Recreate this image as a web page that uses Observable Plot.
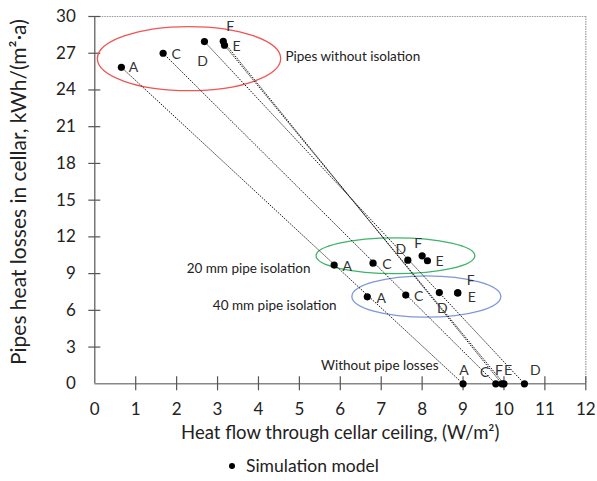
<!DOCTYPE html>
<html>
<head>
<meta charset="utf-8">
<script src="https://cdn.jsdelivr.net/npm/d3@7"></script>
<script src="https://cdn.jsdelivr.net/npm/@observablehq/plot@0.6"></script>
<style>
  body { margin: 0; background: #fff; font-family: Lato, sans-serif; }
  #wrap { position: relative; width: 597px; height: 481px; }
  #legend { position: absolute; top: 455px; left: 229px; font-size: 17.5px; line-height: 22px; color: #222; display: flex; align-items: center; }
  #legend .dot { display: inline-block; width: 6px; height: 6px; border-radius: 50%; background: #000; margin-right: 11px; }
</style>
</head>
<body>
<div id="wrap"><div id="chart"></div><div id="legend"><span class="dot"></span><span>Simulation model</span></div></div>
<script>
// ---- data ----
const scenarios = ["A", "C", "D", "E", "F"];
// Pipes without isolation
const noIsoX = [0.65, 1.67, 2.68, 3.17, 3.14];
const noIsoY = [25.85, 27.0, 27.95, 27.65, 27.97];
// 20 mm pipe isolation
const iso20X = [5.85, 6.80, 7.65, 8.13, 8.00];
const iso20Y = [9.70, 9.85, 10.10, 10.05, 10.45];
// 40 mm pipe isolation
const iso40X = [6.66, 7.60, 8.42, 8.87, 8.87];
const iso40Y = [7.10, 7.25, 7.45, 7.42, 7.42];
// Without pipe losses
const noLossX = [9.00, 9.80, 10.50, 10.00, 9.95];
const noLossY = [0, 0, 0, 0, 0];

const xTicks = [0, 1, 2, 3, 4, 5, 6, 7, 8, 9, 10, 11, 12];
const yTicks = [0, 3, 6, 9, 12, 15, 18, 21, 24, 27, 30];
const groupNames = ["Pipes without isolation", "20 mm pipe isolation", "40 mm pipe isolation", "Without pipe losses"];
const xTitle = "Heat flow through cellar ceiling, (W/m²)";
const yTitle = "Pipes heat losses in cellar, kWh/(m²·a)";

// ---- styling / label placement (pixels) ----
const labelOffsets = [
  // A, C, D, E, F
  [[12, 0], [13, 1], [-2, 20], [12, 1], [7, -15]],
  [[13, 1], [14, 1], [-7, -11], [12, 1], [-4, -12]],
  [[14, 2], [13, 1], [3, 16], [14, 5], [13, -12]],
  [[1, -13], [-11, -11], [11, -13], [4, -13], [-3, -13]]
];
const ellipses = [
  {cx: 2.315, cy: 26.52, rx: 2.24, ry: 2.62, color: "#f05555"},
  {cx: 7.36, cy: 10.41, rx: 1.94, ry: 1.46, color: "#3cb46a"},
  {cx: 8.115, cy: 7.09, rx: 1.82, ry: 1.69, color: "#7d9ad6"}
];

const groups = [[noIsoX, noIsoY], [iso20X, iso20Y], [iso40X, iso40Y], [noLossX, noLossY]];
const points = [];
groups.forEach(([xs, ys], g) => scenarios.forEach((s, i) => points.push({g, s, x: xs[i], y: ys[i], dx: labelOffsets[g][i][0], dy: labelOffsets[g][i][1]})));
const idx = scenarios.map((s, i) => i);

const ellipseMark = (index, scales) => {
  const x = scales.x, y = scales.y;
  const g = d3.create("svg:g");
  for (const e of ellipses) {
    const cx = x(e.cx), cy = y(e.cy);
    g.append("ellipse")
      .attr("cx", cx).attr("cy", cy)
      .attr("rx", Math.abs(x(e.cx + e.rx) - cx))
      .attr("ry", Math.abs(y(e.cy + e.ry) - cy))
      .attr("fill", "none").attr("stroke", e.color).attr("stroke-width", 1.3);
  }
  return g.node();
};

const labelMarks = points.map(p => Plot.text([p], {x: "x", y: "y", text: "s", dx: p.dx, dy: p.dy, fontSize: 14, fill: "#333"}));

const chart = Plot.plot({
  width: 597,
  height: 448,
  marginLeft: 94.3,
  marginRight: 11.7,
  marginTop: 16,
  marginBottom: 64.7,
  style: {fontFamily: "Lato, sans-serif", fontSize: "17px", color: "#222", background: "#fff", overflow: "visible"},
  x: {domain: [0, 12]},
  y: {domain: [0, 30]},
  marks: [
    Plot.ruleY([30], {stroke: "#999", strokeDasharray: "1.5,1", strokeWidth: 1.2}),
    Plot.ruleX([12], {stroke: "#999", strokeDasharray: "1.5,1", strokeWidth: 1.2}),
    Plot.ruleX([0], {stroke: "#555", strokeWidth: 1.2}),
    Plot.ruleY([0], {stroke: "#888", strokeWidth: 1.5}),
    Plot.ruleX(xTicks.slice(1), {x: d => d, y1: 0, y2: 0, insetTop: -7, insetBottom: -7, stroke: "#555", strokeWidth: 1.2}),
    Plot.ruleY(yTicks.slice(1), {y: d => d, x1: 0, x2: 0, insetLeft: -6, insetRight: -6, stroke: "#555", strokeWidth: 1.2}),
    Plot.axisX(xTicks, {tickSize: 0, tickPadding: 19, label: null, fill: "#222"}),
    Plot.axisY(yTicks, {tickSize: 0, tickPadding: 19, label: null, fill: "#222"}),
    Plot.text([xTitle], {frameAnchor: "bottom", dy: 55, fontSize: 18.5, fill: "#222"}),
    Plot.text([yTitle], {frameAnchor: "left", textAnchor: "middle", rotate: -90, dx: -76, dy: -8, fontSize: 21, fill: "#222"}),
    ellipseMark,
    Plot.link(idx, {x1: i => noIsoX[i], y1: i => noIsoY[i], x2: i => noLossX[i], y2: i => noLossY[i], stroke: "#000", strokeWidth: 0.9, strokeDasharray: "1.5,1.2"}),
    Plot.dot(points, {x: "x", y: "y", r: 3.6, fill: "#000"}),
    ...labelMarks,
    Plot.text([groupNames[0]], {x: 4.66, y: 26.72, textAnchor: "start", fontSize: 13.5, fill: "#222"}),
    Plot.text([groupNames[1]], {x: 5.27, y: 9.44, textAnchor: "end", fontSize: 13.5, fill: "#222"}),
    Plot.text([groupNames[2]], {x: 5.91, y: 6.42, textAnchor: "end", fontSize: 13.5, fill: "#222"}),
    Plot.text([groupNames[3]], {x: 8.40, y: 1.49, textAnchor: "end", fontSize: 13.5, fill: "#222"})
  ]
});
document.getElementById("chart").appendChild(chart);
</script>
</body>
</html>
